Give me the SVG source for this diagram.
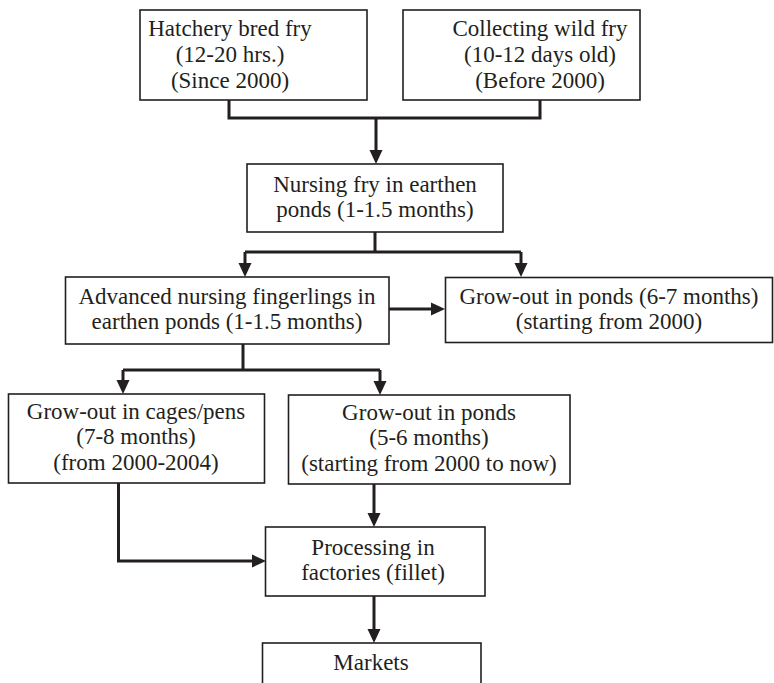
<svg xmlns="http://www.w3.org/2000/svg" width="774" height="683" viewBox="0 0 774 683">
<style>
.box{fill:#fff;stroke:#231f20;stroke-width:1.6}
.t{font-family:"Liberation Serif","Times New Roman",serif;font-size:23px;fill:#231f20;text-anchor:middle}
.c{fill:none;stroke:#231f20;stroke-width:3}
.a{marker-end:url(#ah)}
</style>
<defs>
<marker id="ah" markerUnits="userSpaceOnUse" markerWidth="16" markerHeight="14" refX="0" refY="7" orient="auto" overflow="visible">
<path d="M0,0.5 L14,7 L0,13.5 Z" fill="#231f20"/>
</marker>
</defs>
<rect width="774" height="683" fill="#fff"/>
<g id="connectors">
<path class="c" d="M229,100 V118 H540 V100"/>
<path class="c a" d="M376,118 V150"/>
<path class="c" d="M375,232 V252"/>
<path class="c" d="M245,252 H521"/>
<path class="c a" d="M245,252 V263"/>
<path class="c a" d="M521,252 V263"/>
<path class="c a" d="M389,309 H431"/>
<path class="c" d="M243,344 V370"/>
<path class="c" d="M123,370 H380"/>
<path class="c a" d="M123,370 V380"/>
<path class="c a" d="M380,370 V381"/>
<path class="c a" d="M118.5,483 V561 H252"/>
<path class="c a" d="M374,484 V513"/>
<path class="c a" d="M374,596 V629"/>
</g>
<g id="hatchery">
<rect class="box" x="140" y="10" width="227" height="90"/>
<text class="t" x="230" y="36">Hatchery bred fry</text>
<text class="t" x="230" y="62">(12-20 hrs.)</text>
<text class="t" x="230" y="88">(Since 2000)</text>
</g>
<g id="wild">
<rect class="box" x="403" y="10" width="237" height="90"/>
<text class="t" x="540" y="36">Collecting wild fry</text>
<text class="t" x="540" y="62">(10-12 days old)</text>
<text class="t" x="540" y="88">(Before 2000)</text>
</g>
<g id="nursing">
<rect class="box" x="247" y="164" width="256" height="68"/>
<text class="t" x="375" y="192">Nursing fry in earthen</text>
<text class="t" x="375" y="217">ponds (1-1.5 months)</text>
</g>
<g id="advanced">
<rect class="box" x="65.5" y="277" width="323.5" height="67"/>
<text class="t" x="227" y="304">Advanced nursing fingerlings in</text>
<text class="t" x="227" y="329">earthen ponds (1-1.5 months)</text>
</g>
<g id="growout67">
<rect class="box" x="445.5" y="277.5" width="327" height="65"/>
<text class="t" x="609" y="304">Grow-out in ponds (6-7 months)</text>
<text class="t" x="609" y="329">(starting from 2000)</text>
</g>
<g id="cages">
<rect class="box" x="8.5" y="394" width="256" height="89"/>
<text class="t" x="136" y="419">Grow-out in cages/pens</text>
<text class="t" x="136" y="444">(7-8 months)</text>
<text class="t" x="136" y="470">(from 2000-2004)</text>
</g>
<g id="growout56">
<rect class="box" x="288.5" y="395" width="281.5" height="89"/>
<text class="t" x="429" y="420">Grow-out in ponds</text>
<text class="t" x="429" y="445">(5-6 months)</text>
<text class="t" x="429" y="471">(starting from 2000 to now)</text>
</g>
<g id="processing">
<rect class="box" x="265.5" y="527" width="219.5" height="69"/>
<text class="t" x="373" y="555">Processing in</text>
<text class="t" x="373" y="580">factories (fillet)</text>
</g>
<g id="markets">
<rect class="box" x="262.5" y="643" width="218.5" height="60"/>
<text class="t" x="371" y="670">Markets</text>
</g>
</svg>
